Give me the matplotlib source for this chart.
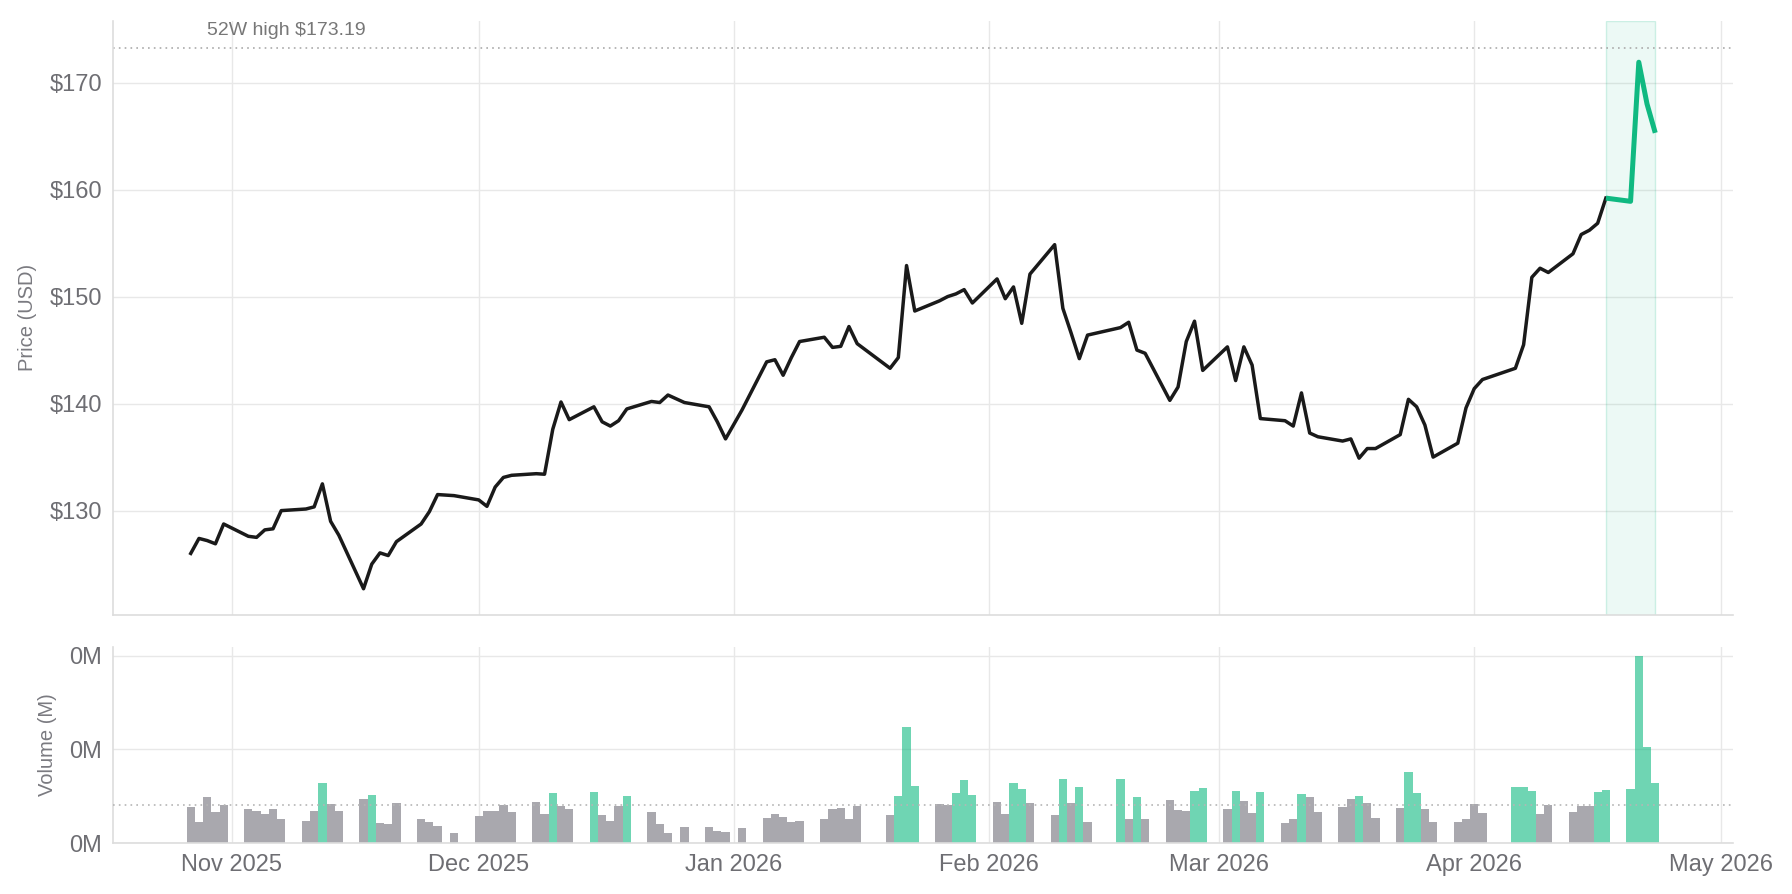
import numpy as np
import pandas as pd
import matplotlib
matplotlib.use("Agg")
import matplotlib.pyplot as plt
import matplotlib.dates as mdates
from matplotlib.ticker import FuncFormatter, MultipleLocator

plt.rcParams['font.family'] = ['Liberation Sans', 'DejaVu Sans']

# trading calendar (NYSE holidays in the window)
market_holidays = ["2025-11-27", "2025-12-25", "2026-01-01",
                   "2026-01-19", "2026-02-16", "2026-04-03"]
dates = pd.bdate_range("2025-10-27", "2026-04-23", freq="C", holidays=market_holidays)

close = [
    126.0, 127.4, 127.2, 126.9, 128.75,
    127.6, 127.5, 128.2, 128.3, 130.0,
    130.15, 130.35, 132.5, 129.0, 127.7,
    122.7, 125.0, 126.05, 125.8, 127.1,
    128.75, 129.9, 131.5, 131.4,
    131.0, 130.4, 132.2, 133.1, 133.3,
    133.45, 133.4, 137.6, 140.15, 138.5,
    139.7, 138.3, 137.9, 138.4, 139.5,
    140.2, 140.1, 140.8, 140.1,
    139.7, 138.3, 136.7,
    139.4,
    143.9, 144.1, 142.65, 144.3, 145.8,
    146.2, 145.25, 145.35, 147.2, 145.6,
    143.3, 144.3, 152.9, 148.65,
    149.6, 150.0, 150.25, 150.65, 149.4,
    151.65, 149.8, 150.9, 147.5, 152.1,
    154.85, 148.9, 146.6, 144.2, 146.4,
    147.1, 147.6, 145.0, 144.7,
    140.3, 141.55, 145.8, 147.7, 143.1,
    145.3, 142.15, 145.3, 143.6, 138.6,
    138.4, 137.9, 141.0, 137.25, 136.9,
    136.5, 136.7, 134.9, 135.8, 135.8,
    137.1, 140.4, 139.7, 138.0, 135.0,
    136.3, 139.6,
    141.4, 142.25,
    143.3, 145.5, 151.8, 152.65, 152.25,
    154.0, 155.8, 156.2, 156.85, 159.2,
    158.9, 171.9, 168.0, 165.3,
]

# daily volume, thousands of shares
volume_k = [
    76.7, 44.8, 97.5, 66.1, 81.0,
    72.5, 68.2, 61.8, 72.5, 51.2,
    46.9, 68.2, 127.9, 83.1, 68.2,
    93.8, 102.3, 42.6, 40.5, 85.3,
    51.2, 44.8, 36.2, 21.3,
    57.5, 68.2, 68.2, 81.0, 66.1,
    87.4, 61.8, 106.6, 78.9, 72.5,
    108.7, 59.7, 46.9, 78.9, 100.2,
    66.1, 40.5, 21.3, 34.1,
    34.1, 25.6, 23.4,
    32.0,
    53.3, 61.8, 55.4, 44.8, 46.9,
    51.2, 72.5, 74.6, 51.2, 78.9,
    59.7, 100.2, 247.2, 121.5,
    83.1, 81.0, 106.6, 134.3, 102.3,
    87.4, 61.8, 127.9, 115.1, 85.3,
    59.7, 136.4, 85.3, 119.4, 44.8,
    136.4, 51.2, 99.0, 51.2,
    91.6, 70.3, 68.2, 110.8, 117.2,
    72.5, 110.8, 89.5, 63.9, 108.7,
    42.6, 51.2, 104.4, 97.5, 66.1,
    76.7, 93.8, 100.2, 85.3, 53.3,
    74.6, 151.3, 106.6, 72.5, 44.8,
    44.8, 51.2,
    83.1, 63.9,
    119.4, 119.4, 110.8, 61.8, 81.0,
    66.1, 78.9, 78.9, 108.7, 113.0,
    115.1, 398.6, 204.6, 127.9,
]

high_52w = 173.19
event_start = pd.Timestamp("2026-04-17")
event_end = pd.Timestamp("2026-04-23")

close = np.array(close)
volume = np.array(volume_k) * 1000
assert len(close) == len(dates) == len(volume)

GREEN = '#10b981'
GRAY_BAR = '#a9a8ae'
TEXT = '#6e6e73'
GRID = '#e8e8e8'

fig = plt.figure(figsize=(17.92, 8.94), dpi=100)
W, H = 1792, 894
ax = fig.add_axes([113 / W, 1 - 615 / H, 1620 / W, (615 - 20.6) / H])
axv = fig.add_axes([113 / W, 1 - 843 / H, 1620 / W, (843 - 647) / H], sharex=ax)

# price panel
before = dates <= event_start
after = dates >= event_start
ax.plot(dates[before], close[before], color='#1a1a1a', lw=2.5, zorder=3)
ax.plot(dates[after], close[after], color=GREEN, lw=3.6, zorder=4,
        solid_capstyle='butt')
ax.axvspan(event_start, event_end, facecolor=(0.063, 0.725, 0.506, 0.08),
           edgecolor=(0.063, 0.725, 0.506, 0.18), lw=1, zorder=1)
ax.axhline(high_52w, color='#aaaaaa', ls=(0, (1, 2.5)), lw=1.2, zorder=2)
ax.annotate(f"52W high ${high_52w:.2f}", xy=(0.058, high_52w),
            xycoords=ax.get_yaxis_transform(), xytext=(0, 7),
            textcoords='offset points', fontsize=14, color='#777777', va='bottom')
ax.set_ylim(close.min() * 0.98, high_52w * 1.015)
ax.yaxis.set_major_locator(MultipleLocator(10))
ax.yaxis.set_major_formatter(FuncFormatter(lambda v, _: f"${v:.0f}"))
ax.set_ylabel("Price (USD)", fontsize=14.5, color='#7a7a80', labelpad=9)

# volume panel
avg_vol = volume.mean()
high_vol = volume > 1.2 * avg_vol
bars = axv.bar(dates, volume, width=1.0, linewidth=0, zorder=2,
               color=[GREEN if h else GRAY_BAR for h in high_vol])
for b, h in zip(bars, high_vol):
    b.set_alpha(0.6 if h else 1.0)
axv.axhline(avg_vol, color='#b5b5b5', ls=(0, (1, 2.5)), lw=1.2, zorder=3)
axv.set_ylim(0, volume.max() * 1.05)
axv.yaxis.set_major_locator(MultipleLocator(200000))
axv.yaxis.set_major_formatter(FuncFormatter(lambda v, _: f"{v / 1e6:.0f}M"))
axv.set_ylabel("Volume (M)", fontsize=14.5, color='#7a7a80', labelpad=9)

axv.xaxis.set_major_locator(mdates.MonthLocator())
axv.xaxis.set_major_formatter(mdates.DateFormatter("%b %Y"))

for a in (ax, axv):
    a.grid(True, color=GRID, lw=1, zorder=0)
    a.set_axisbelow(True)
    for s in ('top', 'right'):
        a.spines[s].set_visible(False)
    for s in ('left', 'bottom'):
        a.spines[s].set_color('#dddddd')
        a.spines[s].set_linewidth(1.2)
    a.tick_params(length=0, labelsize=17, labelcolor=TEXT, pad=8)
ax.tick_params(labelbottom=False)

fig.savefig("out.png", dpi=100, facecolor='white')
